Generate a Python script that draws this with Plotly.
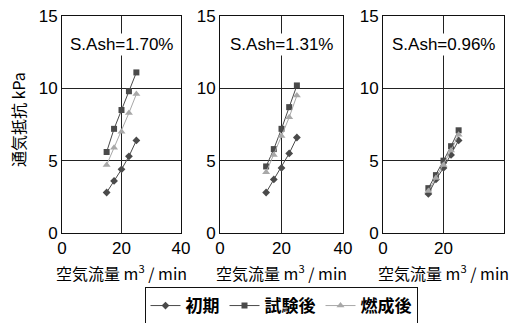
import plotly.graph_objects as go
from plotly.subplots import make_subplots

flow = [15, 17.5, 20, 22.5, 25]
panels = ["S.Ash=1.70%", "S.Ash=1.31%", "S.Ash=0.96%"]
series_names = ["初期", "試験後", "燃成後"]
initial = [[2.8, 3.6, 4.4, 5.3, 6.4],
           [2.8, 3.7, 4.5, 5.5, 6.6],
           [2.7, 3.7, 4.5, 5.4, 6.4]]
after_test = [[5.6, 7.2, 8.5, 9.8, 11.1],
              [4.6, 5.8, 7.2, 8.7, 10.2],
              [3.1, 4.0, 5.0, 6.0, 7.1]]
after_burn = [[4.7, 5.9, 7.0, 8.3, 9.6],
              [4.2, 5.4, 6.7, 8.0, 9.5],
              [2.9, 3.8, 4.7, 5.7, 6.8]]
x_ticks = [0, 20, 40]
y_ticks = [0, 5, 10, 15]

LAT = "Liberation Sans, Arial, Noto Sans CJK JP"
JP = "Noto Sans CJK JP, Liberation Sans"

fig = make_subplots(rows=1, cols=3)

styles = [
    dict(symbol="diamond", size=6, color="#4a4a4a"),
    dict(symbol="square", size=6, color="#4a4a4a"),
    dict(symbol="triangle-up", size=7, color="#a8a8a8"),
]
data_sets = [initial, after_test, after_burn]

for p in range(3):
    for s in range(3):
        st = styles[s]
        fig.add_trace(go.Scatter(
            x=flow, y=data_sets[s][p], mode="lines+markers",
            name=series_names[s], showlegend=(p == 0),
            line=dict(color=st["color"], width=1),
            marker=dict(symbol=st["symbol"], size=st["size"], color=st["color"]),
        ), row=1, col=p + 1)

xdomains = [(62 / 513, 181 / 513), (220 / 513, 343 / 513), (383 / 513, 504 / 513)]
ydom = (1 - 233 / 323, 1 - 16 / 323)

for p in range(3):
    xa = "xaxis" if p == 0 else f"xaxis{p + 1}"
    ya = "yaxis" if p == 0 else f"yaxis{p + 1}"
    fig.layout[xa].update(
        domain=xdomains[p], range=[0, 40], tickvals=x_ticks,
        showgrid=True, gridcolor="#222", gridwidth=1,
        showline=True, linecolor="#111", linewidth=1, mirror=True,
        zeroline=False, ticks="", tickfont=dict(family=LAT, size=17, color="#000"),
        fixedrange=True, automargin=False,
    )
    fig.layout[ya].update(
        domain=ydom, range=[0, 15], tickvals=y_ticks,
        showgrid=True, gridcolor="#222", gridwidth=1,
        showline=True, linecolor="#111", linewidth=1, mirror=True,
        zeroline=False, ticks="", tickfont=dict(family=LAT, size=17, color="#000"),
        fixedrange=True, automargin=False,
    )
    xref = "x domain" if p == 0 else f"x{p + 1} domain"
    yref = "y domain" if p == 0 else f"y{p + 1} domain"
    fig.add_annotation(
        text=panels[p], xref=xref, yref=yref, x=0.5, y=0.87,
        xanchor="center", yanchor="middle",
        showarrow=False, bgcolor="white",
        font=dict(family=LAT, size=17, color="#000"),
    )
    xc = (xdomains[p][0] + xdomains[p][1]) / 2
    fig.add_annotation(
        text="空気流量 m<sup>3</sup> / min", xref="paper", yref="paper",
        x=xc, y=1 - 272 / 323, xanchor="center", yanchor="middle",
        showarrow=False,
        font=dict(family=JP, size=16, color="#000"),
    )

fig.add_annotation(
    text="通気抵抗 kPa", xref="paper", yref="paper", x=18 / 513, y=1 - 120 / 323,
    xanchor="center", yanchor="middle",
    textangle=-90, showarrow=False,
    font=dict(family=JP, size=16, color="#000"),
)

fig.update_layout(
    width=513, height=323,
    margin=dict(l=0, r=0, t=0, b=0, autoexpand=False),
    paper_bgcolor="white", plot_bgcolor="white",
    showlegend=True,
    legend=dict(
        orientation="h", x=281 / 513, xanchor="center",
        y=1 - 306 / 323, yanchor="middle",
        bordercolor="#111", borderwidth=1,
        font=dict(family=JP, size=17, color="#000", weight="bold"),
        itemwidth=30, tracegroupgap=0,
    ),
)

fig.write_html(
    "out.html",
    config={"displayModeBar": False},
    post_script="document.body.style.margin='0px';document.body.style.overflow='hidden';",
)
